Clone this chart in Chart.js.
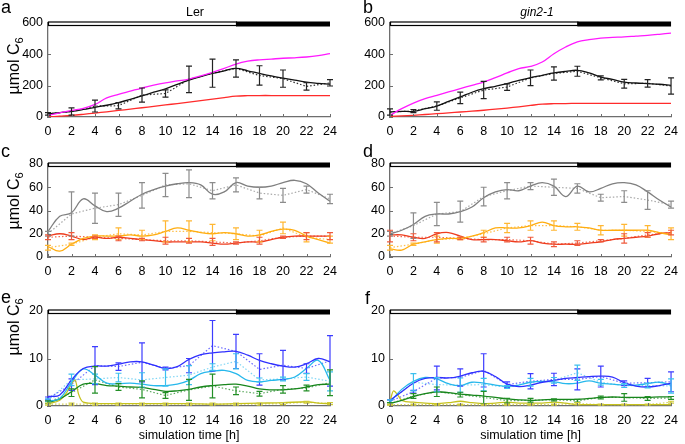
<!DOCTYPE html>
<html>
<head>
<meta charset="utf-8">
<script src="https://cdn.jsdelivr.net/npm/chart.js@4.4.0/dist/chart.umd.min.js"></script>
<style>
  body { margin: 0; background: #fff; width: 685px; height: 444px; position: relative; overflow: hidden; font-family: "Liberation Sans", Arial, sans-serif; }
  .box { position: absolute; }
  .letter { position: absolute; font-size: 18px; line-height: 18px; color: #000; }
  .title { position: absolute; font-size: 12.5px; line-height: 14px; width: 120px; text-align: center; }
  .ytitle { position: absolute; width: 90px; height: 18px; line-height: 18px; font-size: 16px; text-align: center; transform: rotate(-90deg); white-space: nowrap; }
  .ytitle sub { font-size: 11px; vertical-align: -4px; line-height: 0; }
</style>
</head>
<body>
<div class="box" style="left:0;top:0"><canvas id="pa" width="345" height="140"></canvas></div>
<div class="box" style="left:345px;top:0"><canvas id="pb" width="340" height="140"></canvas></div>
<div class="box" style="left:0;top:140px"><canvas id="pc" width="345" height="140"></canvas></div>
<div class="box" style="left:345px;top:140px"><canvas id="pd" width="340" height="140"></canvas></div>
<div class="box" style="left:0;top:280px"><canvas id="pe" width="345" height="164"></canvas></div>
<div class="box" style="left:345px;top:280px"><canvas id="pf" width="340" height="164"></canvas></div>

<div class="letter" style="left:1px;top:-2px">a</div>
<div class="letter" style="left:363px;top:-2px">b</div>
<div class="letter" style="left:1px;top:142px">c</div>
<div class="letter" style="left:363px;top:142px">d</div>
<div class="letter" style="left:1px;top:288px">e</div>
<div class="letter" style="left:365px;top:289px">f</div>
<div class="title" style="left:135px;top:5px">Ler</div>
<div class="title" style="left:477px;top:5px;font-style:italic;font-size:12px">gin2-1</div>
<div class="ytitle" style="left:-31px;top:57px">µmol C<sub>6</sub></div>
<div class="ytitle" style="left:-31px;top:192px">µmol C<sub>6</sub></div>
<div class="ytitle" style="left:-31px;top:318px">µmol C<sub>6</sub></div>

<script>
// time axes
const hours = [0,1,2,3,4,5,6,7,8,9,10,11,12,13,14,15,16,17,18,19,20,21,22,23,24];
const expHours = [0,2,4,6,8,10,12,14,16,18,20,22,24];
const dayNight = [0, 16, 24];

// panel a (Ler, total)
const aMagenta = [10,26,42,55,80,122,145,165,185,203,218,230,242,262,285,310,338,356,365,370,375,378,383,392,405];
const aRed = [0,5,10,17,25,33,42,50,59,68,77,86,95,104,114,124,133,136,137,137,137,137,137,137,137];
const aBlack = [20,28,36,48,62,75,92,112,135,158,180,208,235,258,278,295,310,295,278,262,248,235,222,215,210];
const aBlackExp = [20,35,70,72,140,150,240,280,310,265,245,195,218];
const aBlackSd = [8,23,38,20,45,23,85,90,55,62,55,24,20];

// panel b (gin2-1, total)
const bMagenta = [11,53,89,117,138,160,181,202,223,251,281,309,323,351,404,447,479,494,504,508,511,516,521,528,536];
const bRed = [4,7,11,16,21,26,32,37,43,50,57,65,74,82,85,86,87,87,87,87,87,87,87,87,87];
const bBlack = [32,36,36,53,70,100,128,158,181,196,213,234,251,266,281,291,298,281,255,240,223,217,213,209,202];
const bBlackExp = [32,38,70,122,172,191,250,278,292,250,212,215,198];
const bBlackSd = [20,10,27,37,55,21,50,42,32,13,28,24,52];

// panel c (Ler)
const cGray = [22,35,38,50,44,39,42,48,54,58,61,63,64,62,54,56,64,61,60,61,64,66,63,55,48];
const cGrayExp = [20,37,42,45,53,62,63,57,62,55,53,58,50];
const cGraySd = [2,19,13,10,11,10,12,7,6,5,6,3,4];
const cOrange = [9,5,11,16,18,18,18,19,18,19,22,25,23,21,20,21,20,18,19,22,24,23,18,15,12];
const cOrangeExp = [8,11,17,20,19,22,22,21,20,18,25,17,15];
const cOrangeSd = [2,1,2,5,4,9,9,7,5,5,5,4,3];
const cRed = [18,20,18,15,17,16,17,16,15,14,13,13,13,13,12,11,12,13,13,15,17,18,18,18,18];
const cRedExp = [17,18,17,16,15,14,14,13,12,14,17,18,18];
const cRedSd = [2,3,1,2,1,3,2,3,1,3,1,3,3];

// panel d (gin2-1)
const dGray = [20,23,28,35,37,37,39,43,51,56,58,57,61,64,61,52,61,56,59,63,64,62,56,49,43];
const dGrayExp = [20,27,37,39,52,57,61,60,59,51,52,49,45];
const dGraySd = [2,11,10,9,8,7,3,7,4,3,5,8,3];
const dOrange = [7,6,11,13,15,16,16,18,21,25,25,25,27,30,27,26,26,25,23,23,23,23,23,21,19];
const dOrangeExp = [8,11,15,16,20,25,27,27,26,23,23,22,20];
const dOrangeSd = [2,1,3,1,3,4,4,4,3,4,5,5,5];
const dRed = [19,19,17,16,20,21,18,15,15,15,14,13,14,12,11,11,11,12,13,15,16,17,18,20,21];
const dRedExp = [18,17,17,16,15,15,14,11,12,14,16,19,21];
const dRedSd = [5,3,4,1,2,2,3,2,2,1,4,2,2];

// panel e (Ler)
const eBlue = [2.0,2.3,5.5,7.9,8.4,8.4,8.8,9.3,9.3,8.6,7.9,8.3,9.8,10.8,11.2,11.4,11.5,10.7,9.6,8.9,8.4,8.2,8.9,10.0,9.3];
const eBlueExp = [1.6,4.5,8.5,8.3,9.2,7.9,8.5,12.7,11.5,7.7,8.6,7.9,9.5];
const eBlueSd = [0.3,1.2,4.0,0.8,4.1,0.3,1.5,5.3,3.6,3.3,3.1,1.0,5.3];
const eCyan = [1.0,1.6,5.0,7.8,6.5,4.8,4.7,4.8,4.6,4.3,4.3,4.6,5.4,6.8,7.3,7.5,6.8,5.4,5.1,5.4,5.6,6.1,7.9,9.6,5.4];
const eCyanExp = [1.2,5.5,5.7,6.0,5.5,6.0,6.5,8.2,9.4,5.5,5.7,6.1,5.2];
const eCyanSd = [0.3,1.2,1.0,0.9,1.5,1.8,2.0,0.7,1.6,0.4,0.4,0.7,2.0];
const eGreen = [0.7,1.5,3.0,4.6,4.7,4.3,4.2,4.0,3.9,3.5,3.1,3.2,3.5,4.0,4.3,4.5,4.6,4.2,3.6,3.4,3.4,3.6,4.0,4.5,4.6];
const eGreenExp = [0.8,2.8,5.5,4.0,3.5,2.2,3.4,4.2,3.2,2.6,3.5,3.8,4.9];
const eGreenSd = [0.3,0.8,2.8,0.7,1.8,0.6,2.2,2.5,0.8,0.5,0.8,0.6,2.7];
const eYellowHours = [0,1,1.5,2,2.3,2.6,3,4,6,8,10,12,14,16,18,20,22,23,24];
const eYellow = [0.5,1.2,2.5,4.6,5.5,2.5,0.8,0.5,0.5,0.5,0.5,0.5,0.4,0.5,0.6,0.7,0.9,0.6,0.5];
const eYellowExp = [0.4,0.4,0.4,0.4,0.4,0.4,0.4,0.4,0.4,0.4,0.5,0.8,0.5];
const eYellowSd = [0.2,0.2,0.2,0.2,0.2,0.2,0.2,0.2,0.2,0.2,0.2,0.2,0.2];

// panel f (gin2-1)
const fBlue = [1.2,3.0,4.8,5.8,6.0,5.9,6.3,7.0,7.3,6.2,4.6,4.1,4.4,5.0,5.4,5.8,6.0,6.2,6.3,6.1,4.9,4.2,4.0,4.3,4.8];
const fBlueExp = [1.0,3.0,5.9,6.0,7.5,4.5,5.2,5.6,5.6,6.2,4.8,4.9,5.1];
const fBlueSd = [0.3,0.3,2.5,1.8,3.5,0.6,1.6,1.3,2.2,2.2,0.5,0.9,2.1];
const fCyan = [0.8,3.5,5.2,6.0,5.7,4.7,4.3,5.0,4.8,4.4,4.1,4.4,5.0,5.2,5.1,4.7,4.8,5.3,4.8,4.6,4.4,4.4,4.7,5.0,4.4];
const fCyanExp = [1.0,5.0,4.5,4.4,4.5,4.0,5.0,5.4,7.0,5.0,4.3,4.3,4.2];
const fCyanSd = [0.3,1.8,1.5,1.5,1.3,0.3,0.8,0.6,1.6,0.6,0.4,0.5,1.5];
const fGreen = [0.5,1.2,2.0,2.6,3.0,2.8,2.5,2.3,2.1,1.8,1.5,1.3,1.2,1.3,1.4,1.4,1.4,1.6,1.8,1.9,1.8,1.8,1.8,1.9,1.9];
const fGreenExp = [0.5,2.1,3.0,2.4,1.8,1.1,1.2,1.3,1.1,1.8,1.8,1.6,1.7];
const fGreenSd = [0.2,0.5,1.0,0.5,1.3,0.5,0.4,0.2,0.3,0.3,0.8,0.4,0.3];
const fYellowHours = [0,0.3,0.7,1,2,3,4,5,6,7,8,9,10,11,12,13,14,15,16,17,18,20,22,24];
const fYellow = [1.0,3.2,2.2,1.2,0.8,0.6,0.5,0.7,1.0,0.7,0.5,0.6,0.8,0.6,0.6,0.6,0.8,0.6,0.3,0.3,0.3,0.3,0.3,0.3];
const fYellowExp = [0.3,0.3,0.3,0.3,0.3,0.3,0.3,0.3,0.5,0.3,0.3,0.3,0.8];
const fYellowSd = [0.1,0.1,0.1,0.1,0.1,0.1,0.1,0.1,0.2,0.1,0.1,0.1,0.2];

const FONT = '"Liberation Sans", Arial, sans-serif';
const AXIS = '#6e6e6e';

function pts(xs, ys) {
  return xs.map((t, i) => ({ x: t, y: ys[i] }));
}

function sim(xs, ys, color, mono) {
  return {
    data: pts(xs, ys),
    borderColor: color,
    borderWidth: 1.3,
    pointRadius: 0,
    tension: 0.4,
    cubicInterpolationMode: mono ? 'monotone' : 'default',
  };
}

function expt(ys, sd, color, barColor) {
  return {
    data: pts(expHours, ys),
    sd: sd,
    barColor: barColor,
    borderColor: color,
    borderWidth: 1.2,
    borderDash: [1.5, 2],
    pointRadius: 0,
    tension: 0,
  };
}

// error bars, inward ticks and the light/dark bar on top
const decor = {
  id: 'decor',
  afterDatasetsDraw(chart) {
    const { ctx, chartArea: a, scales: { x, y } } = chart;
    ctx.save();
    chart.data.datasets.forEach((ds) => {
      if (!ds.sd) return;
      ctx.strokeStyle = ds.barColor;
      ctx.lineWidth = 1.2;
      ds.data.forEach((p, j) => {
        const px = x.getPixelForValue(p.x);
        const top = y.getPixelForValue(p.y + ds.sd[j]);
        const bot = y.getPixelForValue(Math.max(p.y - ds.sd[j], 0));
        ctx.beginPath();
        ctx.moveTo(px, top); ctx.lineTo(px, bot);
        ctx.moveTo(px - 3, top); ctx.lineTo(px + 3, top);
        ctx.moveTo(px - 3, bot); ctx.lineTo(px + 3, bot);
        ctx.stroke();
      });
    });

    ctx.strokeStyle = AXIS;
    ctx.lineWidth = 1;
    x.ticks.forEach((t) => {
      const px = Math.round(x.getPixelForValue(t.value)) + 0.5;
      ctx.beginPath();
      ctx.moveTo(px, a.bottom); ctx.lineTo(px, a.bottom - 3);
      ctx.stroke();
    });
    y.ticks.forEach((t) => {
      const py = Math.round(y.getPixelForValue(t.value)) + 0.5;
      ctx.beginPath();
      ctx.moveTo(a.left, py); ctx.lineTo(a.left + 3, py);
      ctx.stroke();
    });

    const x0 = x.getPixelForValue(dayNight[0]);
    const x1 = x.getPixelForValue(dayNight[1]);
    const x2 = x.getPixelForValue(dayNight[2]);
    const yt = a.top - 1.5;
    ctx.fillStyle = '#fff';
    ctx.fillRect(x0, yt, x1 - x0, 4);
    ctx.strokeStyle = '#000';
    ctx.lineWidth = 1.2;
    ctx.strokeRect(x0 + 0.5, yt + 0.5, x1 - x0, 3.5);
    ctx.fillStyle = '#000';
    ctx.fillRect(x1, yt, x2 - x1, 5);
    ctx.restore();
  },
};

function makePanel(id, datasets, yMax, yStep, g) {
  return new Chart(document.getElementById(id), {
    type: 'line',
    data: { datasets: datasets },
    options: {
      responsive: false,
      animation: false,
      layout: { padding: { top: g.top, right: g.right, bottom: 0, left: 0 } },
      plugins: { legend: { display: false }, tooltip: { enabled: false } },
      scales: {
        x: {
          type: 'linear',
          min: 0,
          max: 24,
          border: { color: AXIS, width: 1.3 },
          grid: { display: false, drawTicks: false },
          ticks: { stepSize: 2, padding: 7, color: '#000', autoSkip: false, maxRotation: 0, font: { family: FONT, size: 12.5 } },
          title: { display: g.xTitle, text: 'simulation time [h]', color: '#000', padding: { top: 0, bottom: 1 }, font: { family: FONT, size: 12.5 } },
          afterFit: (s) => { s.height = g.xh; },
        },
        y: {
          min: 0,
          max: yMax,
          border: { color: AXIS, width: 1.3 },
          grid: { display: false, drawTicks: false },
          ticks: { stepSize: yStep, padding: 5, color: '#000', font: { family: FONT, size: 12.5 } },
          afterFit: (s) => { s.width = g.yw; },
        },
      },
    },
    plugins: [decor],
  });
}

const BLACK = '#111111', MAGENTA = '#ff1aff', REDA = '#ff2b2b';
const GRAY = '#7f7f7f', ORANGE = '#ffad10', REDC = '#ee3c1e';
const BLUE = '#2f2fff', CYAN = '#27b8ec', GREEN = '#18861c', YELLOW = '#c6c21e';

const L1 = { top: 23, right: 15, yw: 48, xh: 23, xTitle: false };
const R1 = { top: 23, right: 12, yw: 45, xh: 23, xTitle: false };
const L2 = { top: 24, right: 15, yw: 48, xh: 23, xTitle: false };
const R2 = { top: 24, right: 12, yw: 45, xh: 23, xTitle: false };
const L3 = { top: 31, right: 15, yw: 48, xh: 38, xTitle: true };
const R3 = { top: 31, right: 12, yw: 45, xh: 38, xTitle: true };

makePanel('pa', [
  sim(hours, aMagenta, MAGENTA),
  sim(hours, aRed, REDA),
  sim(hours, aBlack, BLACK),
  expt(aBlackExp, aBlackSd, '#333', '#222'),
], 600, 200, L1);

makePanel('pb', [
  sim(hours, bMagenta, MAGENTA),
  sim(hours, bRed, REDA),
  sim(hours, bBlack, BLACK),
  expt(bBlackExp, bBlackSd, '#333', '#222'),
], 600, 200, R1);

makePanel('pc', [
  sim(hours, cGray, GRAY),
  sim(hours, cOrange, ORANGE),
  sim(hours, cRed, REDC),
  expt(cGrayExp, cGraySd, '#a8a8a8', '#8c8c8c'),
  expt(cOrangeExp, cOrangeSd, '#ffc04d', '#ffb733'),
  expt(cRedExp, cRedSd, '#f06a50', '#ef5a3c'),
], 80, 20, L2);

makePanel('pd', [
  sim(hours, dGray, GRAY),
  sim(hours, dOrange, ORANGE),
  sim(hours, dRed, REDC),
  expt(dGrayExp, dGraySd, '#a8a8a8', '#8c8c8c'),
  expt(dOrangeExp, dOrangeSd, '#ffc04d', '#ffb733'),
  expt(dRedExp, dRedSd, '#f06a50', '#ef5a3c'),
], 80, 20, R2);

makePanel('pe', [
  sim(hours, eBlue, BLUE),
  sim(hours, eCyan, CYAN),
  sim(hours, eGreen, GREEN),
  sim(eYellowHours, eYellow, YELLOW, true),
  expt(eBlueExp, eBlueSd, '#6a6aff', '#3d3dff'),
  expt(eCyanExp, eCyanSd, '#7fd6f5', '#3cc0ee'),
  expt(eGreenExp, eGreenSd, '#5aa85c', '#238f27'),
  expt(eYellowExp, eYellowSd, '#d6d35a', '#cfcb3a'),
], 20, 10, L3);

makePanel('pf', [
  sim(hours, fBlue, BLUE),
  sim(hours, fCyan, CYAN),
  sim(hours, fGreen, GREEN),
  sim(fYellowHours, fYellow, YELLOW, true),
  expt(fBlueExp, fBlueSd, '#6a6aff', '#3d3dff'),
  expt(fCyanExp, fCyanSd, '#7fd6f5', '#3cc0ee'),
  expt(fGreenExp, fGreenSd, '#5aa85c', '#238f27'),
  expt(fYellowExp, fYellowSd, '#d6d35a', '#cfcb3a'),
], 20, 10, R3);
</script>
</body>
</html>
